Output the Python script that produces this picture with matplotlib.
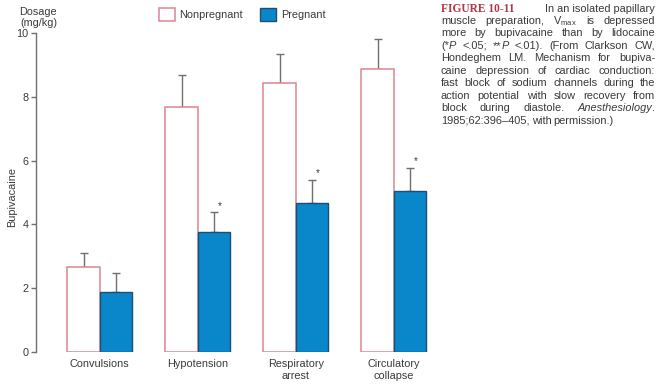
"""
Bupivacaine dosage: nonpregnant vs pregnant (bar chart with caption)
"""

import matplotlib
matplotlib.use("Agg")
import matplotlib.pyplot as plt
import numpy as np
from matplotlib.patches import Patch

plt.rcParams["font.family"] = ["Liberation Sans", "DejaVu Sans"]
plt.rcParams["mathtext.fontset"] = "custom"
plt.rcParams["mathtext.rm"] = "Liberation Sans"
plt.rcParams["mathtext.it"] = "Liberation Sans:italic"

categories = ["Convulsions", "Hypotension", "Respiratory\narrest", "Circulatory\ncollapse"]
nonpregnant = [2.65, 7.68, 8.42, 8.87]
nonpregnant_err = [0.45, 1.0, 0.92, 0.93]
pregnant = [1.87, 3.75, 4.66, 5.04]
pregnant_err = [0.6, 0.63, 0.73, 0.73]
significant = [False, True, True, True]

# caption lines, words marked "i:" are set in italic
caption_lines = [
    "muscle preparation, V$_{\\mathrm{max}}$ is depressed",
    "more by bupivacaine than by lidocaine",
    "(*i:P <.05; **i:P <.01). (From Clarkson CW,",
    "Hondeghem LM. Mechanism for bupiva-",
    "caine depression of cardiac conduction:",
    "fast block of sodium channels during the",
    "action potential with slow recovery from",
    "block during diastole. i:Anesthesiology.",
    "1985;62:396\u2013405, with permission.)",
]

BLUE = "#0a86cb"
BLUE_EDGE = "#1d4f70"
PINK = "#d98890"
GRAY = "#707070"
TEXT = "#3a3a3a"
CAP_SIZE = 7.9


def justified_line(fig, line, x0, x1, y, justify=True):
    renderer = fig.canvas.get_renderer()
    items = []
    for w in line.split(" "):
        # "(*i:P" -> "(*" normal + "P" italic
        parts = []
        if "i:" in w:
            pre, rest = w.split("i:")
            if pre:
                parts.append((pre, "normal"))
            core = rest.rstrip(".")
            parts.append((core, "italic"))
            if rest[len(core):]:
                parts.append((rest[len(core):], "normal"))
        else:
            parts.append((w, "normal"))
        objs = [fig.text(0, y, txt, fontsize=CAP_SIZE, color=TEXT, style=st, va="center")
                for txt, st in parts]
        items.append(objs)

    fig_w = fig.bbox.width
    widths = [[o.get_window_extent(renderer).width / fig_w for o in objs] for objs in items]
    total = sum(sum(ws) for ws in widths)
    space = 2.2 / fig_w
    gap = (x1 - x0 - total) / (len(items) - 1) if justify and len(items) > 1 else space
    x = x0
    for objs, ws in zip(items, widths):
        for o, wd in zip(objs, ws):
            o.set_x(x)
            x += wd
        x += gap


def main():
    fig = plt.figure(figsize=(6.62, 3.87), dpi=100)
    ax = fig.add_axes([0.0544, 0.0904, 0.61, 0.8243])

    x = np.arange(len(categories))
    w = 0.33

    ax.bar(x - w / 2, nonpregnant, w, color="white", edgecolor=PINK, linewidth=1.1, zorder=2)
    ax.bar(x + w / 2, pregnant, w, color=BLUE, edgecolor=BLUE_EDGE, linewidth=1.0, zorder=2)

    # upward-only error bars
    ax.errorbar(x - w / 2, nonpregnant, yerr=[np.zeros(4), nonpregnant_err], fmt="none",
                ecolor=GRAY, elinewidth=1.0, capsize=3, capthick=1.0, zorder=1)
    ax.errorbar(x + w / 2, pregnant, yerr=[np.zeros(4), pregnant_err], fmt="none",
                ecolor=GRAY, elinewidth=1.0, capsize=3, capthick=1.0, zorder=1)

    for i, sig in enumerate(significant):
        if sig:
            ax.text(x[i] + w / 2 + 0.06, pregnant[i] + pregnant_err[i] + 0.05, "*",
                    fontsize=7, color=TEXT, ha="center", va="bottom")

    ax.set_xlim(-0.65, 3.47)
    ax.set_ylim(0, 10)
    ax.set_yticks([0, 2, 4, 6, 8, 10])
    ax.set_xticks(x)
    ax.set_xticklabels(categories, fontsize=7.8, color=TEXT, linespacing=1.3)
    ax.tick_params(axis="x", length=0, pad=5)
    ax.tick_params(axis="y", length=3.5, width=1.0, color=GRAY, labelsize=7.8,
                   labelcolor=TEXT, pad=2)

    for s in ["top", "right", "bottom"]:
        ax.spines[s].set_visible(False)
    ax.spines["left"].set_color(GRAY)
    ax.spines["left"].set_linewidth(1.0)

    fig.text(0.018, 0.49, "Bupivacaine", rotation=90, fontsize=7.8, color=TEXT,
             ha="center", va="center")
    fig.text(0.058, 0.955, "Dosage\n(mg/kg)", fontsize=7.8, color=TEXT,
             ha="center", va="center", linespacing=1.2)

    handles = [Patch(facecolor="white", edgecolor=PINK, linewidth=1.1),
               Patch(facecolor=BLUE, edgecolor=BLUE_EDGE, linewidth=1.0)]
    fig.legend(handles, ["Nonpregnant", "Pregnant"], loc="center left",
               bbox_to_anchor=(0.225, 0.962), ncol=2, frameon=False, fontsize=7.8,
               handlelength=1.5, handleheight=1.5, handletextpad=0.4, columnspacing=1.6,
               labelcolor=TEXT)

    # caption on the right, justified between x0 and x1
    x0, x1 = 441 / 662, 655 / 662
    y0 = 1 - 8.5 / 387
    fig.text(x0, y0, "FIGURE 10-11", fontsize=8.3, color="#b23848",
             family=["Liberation Serif", "DejaVu Serif"], weight="bold", va="center")
    fig.text(x1, y0, "In an isolated papillary", fontsize=CAP_SIZE, color=TEXT,
             va="center", ha="right")
    for i, line in enumerate(caption_lines):
        justified_line(fig, line, x0, x1, y0 - (i + 1) * 12.45 / 387,
                       justify=(i < len(caption_lines) - 1))

    fig.savefig("out.png", dpi=100, facecolor="white")
    plt.close(fig)


if __name__ == "__main__":
    main()
